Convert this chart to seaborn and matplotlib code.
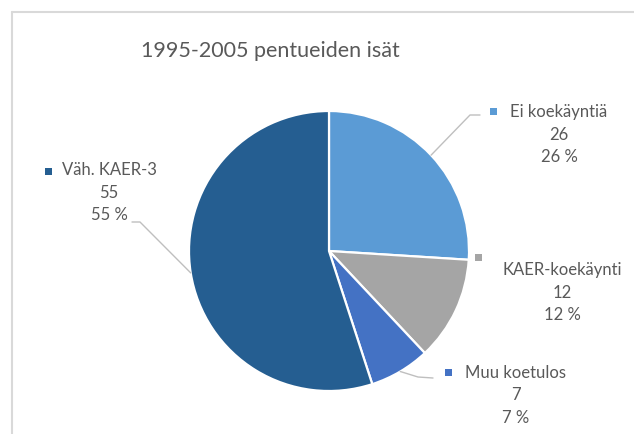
import numpy as np
import matplotlib
matplotlib.use("Agg")
import matplotlib.pyplot as plt
import seaborn as sns
from matplotlib.lines import Line2D

# ---- data ----
categories = ["Ei koekäyntiä", "KAER-koekäynti", "Muu koetulos", "Väh. KAER-3"]
values = [26, 12, 7, 55]
colors = ["#5B9BD5", "#A5A5A5", "#4472C4", "#255E91"]
title = "1995-2005 pentueiden isät"

sns.set_theme(style="white")
plt.rcParams['font.family'] = ['Lato', 'DejaVu Sans']

W, H = 634, 434
fig = plt.figure(figsize=(W / 100, H / 100), dpi=100)
ax = fig.add_axes([0, 0, 1, 1])

def Y(y):  # top-origin pixel -> data y
    return H - y

cx, cy, r = 329, 251, 140
wedges, _ = ax.pie(values, colors=colors, startangle=90, counterclock=False,
                   center=(cx, Y(cy)), radius=r,
                   wedgeprops=dict(edgecolor="white", linewidth=1.6))
ax.set_xlim(0, W)
ax.set_ylim(0, H)
ax.set_aspect("equal")
ax.axis("off")

txt_col = "#595959"
line_col = "#BFBFBF"
fs = 12

# label layout: text center x, first-line y, marker (x, y)
layout = {
    "Ei koekäyntiä": dict(tx=559, ty=112, mx=493, my=111),
    "KAER-koekäynti": dict(tx=562, ty=270, mx=478, my=257),
    "Muu koetulos": dict(tx=515.5, ty=373, mx=448, my=372),
    "Väh. KAER-3": dict(tx=109, ty=170, mx=48, my=171),
}
# leader elbows (top-origin pixels)
leaders = {
    "Ei koekäyntiä": [(470, 115), (480, 115)],
    "Muu koetulos": [(418, 377), (433, 378)],
    "Väh. KAER-3": [(140, 222), (132, 222)],
}

total = sum(values)
cum = 0
for cat, v, col in zip(categories, values, colors):
    mid = (cum + v / 2) / total * 2 * np.pi
    cum += v
    px = cx + r * np.sin(mid)
    py = cy - r * np.cos(mid)
    L = layout[cat]
    lines = [cat, f"{v}", f"{round(v / total * 100)} %"]
    for i, s in enumerate(lines):
        ax.text(L["tx"], Y(L["ty"] + i * 22.5), s, ha="center", va="center",
                fontsize=fs, color=txt_col)
    ax.add_patch(plt.Rectangle((L["mx"] - 3.5, Y(L["my"]) - 3.5), 7, 7,
                               color=col, lw=0))
    if cat in leaders:
        pts = [(px, py)] + leaders[cat]
        ax.add_line(Line2D([p[0] for p in pts], [Y(p[1]) for p in pts],
                           color=line_col, lw=1.0))

ax.text(270.5, Y(51), title, ha="center", va="center", fontsize=15.5, color=txt_col)

# chart frame (partly cropped)
ax.add_line(Line2D([11.5, 11.5], [0, Y(11.5)], color="#D9D9D9", lw=1.5))
ax.add_line(Line2D([11.5, W], [Y(11.5), Y(11.5)], color="#D9D9D9", lw=1.5))

fig.savefig("out.png", dpi=100)
